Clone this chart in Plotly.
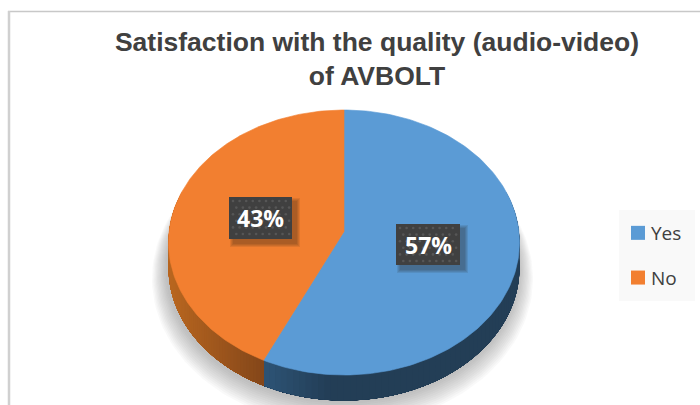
import numpy as np
import plotly.graph_objects as go

TITLE = "Satisfaction with the quality (audio-video)<br>of AVBOLT"
categories = ["Yes", "No"]
values = [57, 43]
colors = ["#5B9BD5", "#F27F30"]

W, H = 700, 405
CX, CY, RX, RY = 344, 242.5, 175.5, 132.5
TILT = 0.083
DEPTH = 25.5


def project(theta, radius=1.0):
    """Clockwise angle from 12 o'clock on the flat disc -> tilted pie on the page."""
    u, v = radius * np.sin(theta), radius * np.cos(theta)
    d = 1 + TILT * v
    return CX + RX * u * np.sqrt(1 - TILT ** 2) / d, CY - RY * (v + TILT) / d


fig = go.Figure()


def poly(x, y, color, line=None):
    fig.add_trace(go.Scatter(
        x=list(x), y=list(y), mode="lines", fill="toself", fillcolor=color,
        line=dict(width=0.6 if line else 0, color=line or color),
        hoverinfo="skip", showlegend=False))


# soft shadow under the pie
full = np.linspace(0, 2 * np.pi, 181)
for k in range(12, 0, -1):
    grow = k * 1.25
    px, py = project(full)
    poly(CX + (px - CX) * (1 + grow / RX) - 1.5,
         py + DEPTH + 1 + (py - CY) * grow / RY + 0.8 * k,
         "rgba(90,90,90,0.04)")

# angles of the slices, from the values
fractions = np.array(values, dtype=float) / sum(values)
edges = np.concatenate([[0], np.cumsum(fractions)]) * 2 * np.pi

# side wall: overlapping ribbons, each painted over the last, for a seamless gradient
for i in range(len(values)):
    a0, a1 = edges[i], edges[i + 1]
    if i == 0:
        starts = np.linspace(np.pi * 0.4, a1, 70)
    else:
        starts = np.linspace(a1 - np.pi * 0.4, a0, 70)
    for start in starts:
        t = np.linspace(start, a0 if i else a1, 60)
        x, y = project(t)
        if i == 0:
            pos = min(1, max(0, (x[0] - 263) / 70))
            c0, c1 = np.array([0x2F, 0x55, 0x78]), np.array([0x23, 0x3E, 0x56])
        else:
            pos = min(1, max(0, (x[0] - 172) / 90))
            c0, c1 = np.array([0xB8, 0x66, 0x20]), np.array([0x84, 0x47, 0x1A])
        c = c0 + (c1 - c0) * pos
        col = f"rgb({int(c[0])},{int(c[1])},{int(c[2])})"
        poly(np.r_[x, x[::-1]], np.r_[y, y[::-1] + DEPTH], col)

# top faces
for i in range(len(values)):
    t = np.linspace(edges[i], edges[i + 1], 160)
    x, y = project(t)
    ax, ay = project(0.0, 0.0)
    poly(np.r_[ax, x, ax], np.r_[ay, y, ay], colors[i], colors[i])

# legend entries
for c, col in zip(categories, colors):
    fig.add_trace(go.Scatter(
        x=[None], y=[None], mode="markers", name=c, legendgroup=c,
        marker=dict(symbol="square", size=14, color=col)))

# data labels
label_boxes = [(396, 460, 224, 265), (229, 292, 197, 239)]
for (x0, x1, y0, y1), v in zip(label_boxes, values):
    for s in range(4, 0, -1):
        poly([x0 + 5 - s, x1 + 4 + s, x1 + 4 + s, x0 + 5 - s, x0 + 5 - s],
             [y0 + 5 - s, y0 + 5 - s, y1 + 4 + s, y1 + 4 + s, y0 + 5 - s],
             "rgba(40,30,20,0.10)")
    poly([x0, x1, x1, x0, x0], [y0, y0, y1, y1, y0], "#404040")
    gx, gy = [], []
    for r, yy in enumerate(np.arange(y0 + 4, y1 - 1, 6.6)):
        for xx in np.arange(x0 + 4 + (r % 2) * 3.3, x1 - 1, 6.6):
            gx.append(xx)
            gy.append(yy)
    fig.add_trace(go.Scatter(x=gx, y=gy, mode="markers", hoverinfo="skip", showlegend=False,
                             marker=dict(size=2.6, color="#565656", line=dict(width=0))))
    fig.add_annotation(x=(x0 + x1) / 2, y=(y0 + y1) / 2, text=f"<b>{v}%</b>", showarrow=False,
                       font=dict(family="Open Sans", size=23, color="white"))

fig.update_layout(
    width=W, height=H, margin=dict(l=0, r=0, t=0, b=0),
    paper_bgcolor="white", plot_bgcolor="white",
    xaxis=dict(range=[0, W], visible=False, fixedrange=True),
    yaxis=dict(range=[H, 0], visible=False, fixedrange=True),
    title=dict(text=TITLE, x=377 / W, xanchor="center", y=1 - 51 / H, yanchor="top",
               font=dict(family="Liberation Sans", size=26.5, color="#404040", weight="bold")),
    legend=dict(x=611 / W, y=1 - 214 / H, xanchor="left", yanchor="top",
                bgcolor="rgba(0,0,0,0)", tracegroupgap=17, traceorder="grouped",
                font=dict(family="Open Sans", size=19, color="#404040"),
                itemclick=False, itemdoubleclick=False),
    shapes=[
        dict(type="rect", x0=619, x1=695, y0=210, y1=301, fillcolor="#F9F9F9",
             line=dict(width=0), layer="below"),
        dict(type="line", x0=8, x1=W, y0=11.5, y1=11.5, line=dict(color="#C8C8C8", width=1.5), layer="below"),
        dict(type="line", x0=9, x1=9, y0=11, y1=H, line=dict(color="#D0D0D0", width=2.5), layer="below"),
    ],
)
fig.write_html(
    "out.html",
    config={"displayModeBar": False},
    post_script="document.body.style.margin='0';document.body.style.overflow='hidden';"
                "document.querySelectorAll('.legendpoints').forEach(function(g){g.setAttribute('transform','translate(7,0)');});",
)
